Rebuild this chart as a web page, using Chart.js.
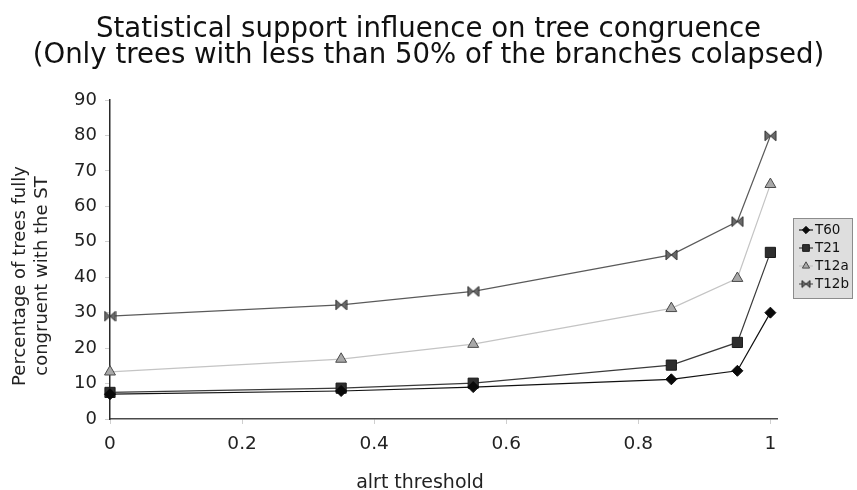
<!DOCTYPE html>
<html>
<head>
<meta charset="utf-8">
<script src="https://cdn.jsdelivr.net/npm/chart.js@4/dist/chart.umd.min.js"></script>
<style>
html,body{margin:0;padding:0;background:#fff;}
#wrap{width:857px;height:490px;}
</style>
</head>
<body>
<div id="wrap"><canvas id="c" width="857" height="490"></canvas></div>
<script>
// ---- data ----
const thresholds = [0, 0.35, 0.55, 0.85, 0.95, 1];
const seriesNames = ['T60', 'T21', 'T12a', 'T12b'];
const t60Values  = [7.0, 7.9, 9.0, 11.2, 13.6, 30.0];
const t21Values  = [7.5, 8.7, 10.1, 15.2, 21.6, 47.0];
const t12aValues = [13.3, 16.9, 21.1, 31.2, 39.7, 66.2];
const t12bValues = [29.0, 32.2, 36.0, 46.3, 55.7, 79.9];
const xTickValues = [0, 0.2, 0.4, 0.6, 0.8, 1];
const xTickLabels = ['0', '0.2', '0.4', '0.6', '0.8', '1'];
const titleLines = ['Statistical support influence on tree congruence',
                    '(Only trees with less than 50% of the branches colapsed)'];
const yAxisTitle = ['Percentage of trees fully', 'congruent with the ST'];
const xAxisTitle = 'alrt threshold';

const FONT = 'DejaVu Sans';

// bow-tie marker for T12b
function bowtie(w, h) {
  const c = document.createElement('canvas');
  c.width = w; c.height = h;
  const g = c.getContext('2d');
  g.fillStyle = '#6a6a6a';
  g.strokeStyle = '#2e2e2e';
  g.lineWidth = 1;
  g.beginPath();
  g.moveTo(1, 1); g.lineTo(w / 2, h / 2); g.lineTo(1, h - 1); g.closePath();
  g.moveTo(w - 1, 1); g.lineTo(w / 2, h / 2); g.lineTo(w - 1, h - 1); g.closePath();
  g.fill(); g.stroke();
  return c;
}
const bowtieBig = bowtie(13, 12);
const bowtieSmall = bowtie(10, 9);

function pts(vals) { return thresholds.map((x, i) => ({x: x, y: vals[i]})); }

const datasets = [
  {label: seriesNames[0], data: pts(t60Values), borderColor: '#111', borderWidth: 1.2,
   pointStyle: 'rectRot', pointRadius: 5.5, pointBackgroundColor: '#0a0a0a', pointBorderColor: '#0a0a0a', pointBorderWidth: 1},
  {label: seriesNames[1], data: pts(t21Values), borderColor: '#3a3a3a', borderWidth: 1.2,
   pointStyle: 'rect', pointRadius: 7.2, pointBackgroundColor: '#2e2e2e', pointBorderColor: '#1a1a1a', pointBorderWidth: 1},
  {label: seriesNames[2], data: pts(t12aValues), borderColor: '#c4c4c4', borderWidth: 1.2,
   pointStyle: 'triangle', pointRadius: 6.3, pointBackgroundColor: '#a8a8a8', pointBorderColor: '#4a4a4a', pointBorderWidth: 1},
  {label: seriesNames[3], data: pts(t12bValues), borderColor: '#5a5a5a', borderWidth: 1.2,
   pointStyle: bowtieBig, pointRadius: 6, pointBackgroundColor: '#6a6a6a', pointBorderColor: '#2e2e2e', pointBorderWidth: 1}
];
datasets.forEach(d => { d.fill = false; d.tension = 0; d.clip = false; d.pointHoverRadius = d.pointRadius; });

// axis titles placed like the reference (offset from the plot centre)
const axisTitles = {
  id: 'axisTitles',
  afterDraw(chart) {
    const ctx = chart.ctx;
    ctx.save();
    ctx.fillStyle = '#222';
    ctx.textAlign = 'center';
    ctx.textBaseline = 'alphabetic';
    ctx.font = '18px "' + FONT + '"';
    const baseX = [25, 46.5];
    yAxisTitle.forEach((line, i) => {
      ctx.save();
      ctx.translate(baseX[i], 276);
      ctx.rotate(-Math.PI / 2);
      ctx.fillText(line, 0, 0);
      ctx.restore();
    });
    ctx.font = '19px "' + FONT + '"';
    ctx.fillText(xAxisTitle, 420, 488);
    ctx.restore();
  }
};

const legendBox = {
  id: 'legendBox',
  afterDraw(chart) {
    const ctx = chart.ctx;
    ctx.save();
    const bx = 793.5, by = 218.5, bw = 59, bh = 80;
    ctx.fillStyle = '#dedede';
    ctx.fillRect(bx, by, bw, bh);
    ctx.strokeStyle = '#8c8c8c';
    ctx.lineWidth = 1;
    ctx.strokeRect(bx, by, bw, bh);
    chart.data.datasets.forEach((d, i) => {
      const cy = 230 + 18 * i;
      ctx.strokeStyle = d.borderColor;
      ctx.lineWidth = 1.2;
      ctx.beginPath(); ctx.moveTo(799, cy); ctx.lineTo(813, cy); ctx.stroke();
      if (typeof d.pointStyle === 'string') {
        ctx.fillStyle = d.pointBackgroundColor;
        ctx.strokeStyle = d.pointBorderColor;
        ctx.lineWidth = 1;
        Chart.helpers.drawPoint(ctx, {pointStyle: d.pointStyle, radius: d.pointRadius * 0.66, borderWidth: 1, rotation: 0}, 806, cy);
      } else {
        ctx.drawImage(bowtieSmall, 806 - 5, cy - 4.5);
      }
      ctx.fillStyle = '#111';
      ctx.font = '13.5px "' + FONT + '"';
      ctx.textBaseline = 'middle';
      ctx.textAlign = 'left';
      ctx.fillText(d.label, 815, cy + 0.5);
    });
    ctx.restore();
  }
};

new Chart(document.getElementById('c'), {
  type: 'line',
  data: {datasets: datasets},
  plugins: [legendBox, axisTitles],
  options: {
    responsive: false,
    devicePixelRatio: 1,
    animation: false,
    events: [],
    layout: {padding: 0},
    plugins: {
      legend: {display: false},
      tooltip: {enabled: false},
      title: {
        display: true,
        text: titleLines,
        color: '#111',
        font: {family: FONT, size: 27.6, weight: 'normal', lineHeight: '26px'},
        padding: {top: 17, bottom: 31}
      }
    },
    scales: {
      x: {
        type: 'linear',
        min: 0, max: 1.01,
        afterBuildTicks: s => { s.ticks = xTickValues.map(v => ({value: v})); },
        afterFit: s => { s.height = 71; },
        ticks: {
          color: '#222',
          font: {family: FONT, size: 18.5},
          padding: 9,
          maxRotation: 0,
          autoSkip: false,
          callback: (v, i) => xTickLabels[i]
        },
        grid: {display: true, drawOnChartArea: false, drawTicks: true, tickLength: 5, color: '#cfcfcf'},
        border: {display: true, color: '#4a4a4a', width: 1.5},
        title: {display: false, text: xAxisTitle}
      },
      y: {
        type: 'linear',
        position: 'left',
        min: 0, max: 90,
        afterFit: s => { s.width = 110; },
        ticks: {stepSize: 10, color: '#222', font: {family: FONT, size: 18}, padding: 8},
        grid: {display: true, drawOnChartArea: false, drawTicks: true, tickLength: 5, color: '#cfcfcf'},
        border: {display: true, color: '#2a2a2a', width: 1.5},
        title: {display: false, text: yAxisTitle}
      },
      yRight: {
        type: 'linear',
        position: 'right',
        display: true,
        afterFit: s => { s.width = 80; },
        ticks: {display: false},
        grid: {display: false},
        border: {display: false}
      }
    }
  }
});
</script>
</body>
</html>
